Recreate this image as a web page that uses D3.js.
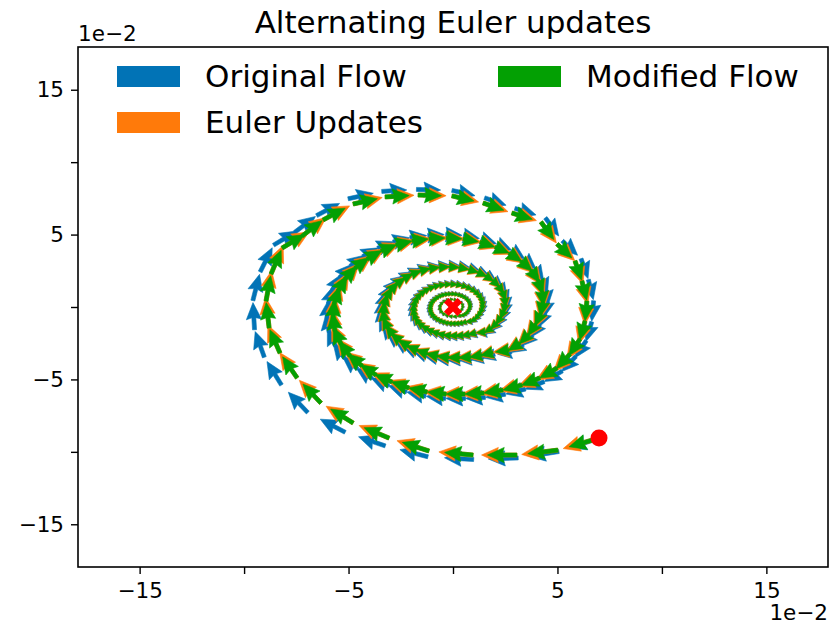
<!DOCTYPE html>
<meta charset="utf-8">
<script src="https://d3js.org/d3.v7.min.js"></script>
<style>
  body { margin: 0; background: #fff; }
  text { font-family: "DejaVu Sans", sans-serif; }
</style>
<div id="chart"></div>
<script>
// all values in units of 1e-2
// Euler iterates (tails of the Euler update and modified flow arrows), ring by ring
const eulerRing1 = [[6.99,-9.05],[5.02,-9.88],[3.06,-10.22],[0.96,-10.22],[-1.15,-9.94],[-3.06,-9.05],[-4.78,-8.01],[-6.32,-6.63],[-7.46,-4.90],[-8.28,-3.18],[-8.80,-1.45],[-8.95,0.41],[-8.71,2.28],[-8.18,4.07],[-7.22,4.90],[-6.22,6.01],[-4.78,7.11],[-3.25,7.60],[-1.67,7.73],[-0.05,7.67],[1.44,7.18],[2.82,6.49],[4.21,5.87],[4.98,4.35],[5.84,3.18],[6.17,1.80],[6.41,0.41],[6.32,-0.97],[6.08,-2.21],[5.60,-3.25],[4.98,-4.21],[4.16,-4.90]];
const eulerRing2 = [[3.30,-5.39],[2.39,-5.73],[1.48,-5.94],[0.57,-6.01],[-0.33,-6.01],[-1.24,-5.87],[-2.11,-5.59],[-2.92,-5.18],[-3.68,-4.70],[-4.35,-4.07],[-4.93,-3.38],[-5.36,-2.56],[-5.65,-1.66],[-5.74,-0.76],[-5.69,0.21],[-5.50,1.10],[-5.17,1.93],[-4.69,2.69],[-4.11,3.31],[-3.44,3.87],[-2.73,4.28],[-1.96,4.56],[-1.15,4.70],[-0.33,4.77],[0.48,4.70],[1.29,4.49],[2.01,4.14],[2.68,3.73],[3.25,3.18],[3.73,2.56],[4.07,1.86],[4.26,1.10],[4.31,0.35],[4.21,-0.41],[3.97,-1.17],[3.64,-1.86],[3.21,-2.49],[2.68,-2.97]];
const eulerRing3 = [[1.91,-3.13],[1.39,-3.32],[0.86,-3.45],[0.33,-3.49],[-0.19,-3.49],[-0.72,-3.40],[-1.22,-3.24],[-1.69,-3.00],[-2.13,-2.73],[-2.52,-2.36],[-2.86,-1.96],[-3.11,-1.48],[-3.28,-0.96],[-3.33,-0.44],[-3.30,0.12],[-3.19,0.64],[-3.00,1.12],[-2.72,1.56],[-2.38,1.92],[-2.00,2.24],[-1.58,2.48],[-1.14,2.64],[-0.67,2.73],[-0.19,2.77],[0.28,2.73],[0.75,2.60],[1.17,2.40],[1.55,2.16],[1.89,1.84],[2.16,1.48],[2.36,1.08],[2.47,0.64],[2.50,0.20],[2.44,-0.24],[2.30,-0.68],[2.11,-1.08],[1.86,-1.44],[1.55,-1.72]];
const eulerRing4 = [[1.09,-1.78],[0.79,-1.89],[0.49,-1.96],[0.19,-1.98],[-0.11,-1.98],[-0.41,-1.94],[-0.70,-1.84],[-0.96,-1.71],[-1.21,-1.55],[-1.44,-1.34],[-1.63,-1.12],[-1.77,-0.84],[-1.86,-0.55],[-1.89,-0.25],[-1.88,0.07],[-1.82,0.36],[-1.71,0.64],[-1.55,0.89],[-1.36,1.09],[-1.14,1.28],[-0.90,1.41],[-0.65,1.50],[-0.38,1.55],[-0.11,1.57],[0.16,1.55],[0.43,1.48],[0.66,1.37],[0.88,1.23],[1.07,1.05],[1.23,0.84],[1.34,0.61],[1.41,0.36],[1.42,0.12],[1.39,-0.14],[1.31,-0.39],[1.20,-0.61],[1.06,-0.82],[0.88,-0.98]];
const eulerRing5 = [[0.63,-1.02],[0.45,-1.09],[0.28,-1.13],[0.11,-1.14],[-0.06,-1.14],[-0.24,-1.12],[-0.40,-1.06],[-0.55,-0.98],[-0.70,-0.89],[-0.83,-0.77],[-0.94,-0.64],[-1.02,-0.49],[-1.07,-0.32],[-1.09,-0.14],[-1.08,0.04],[-1.05,0.21],[-0.98,0.37],[-0.89,0.51],[-0.78,0.63],[-0.65,0.74],[-0.52,0.81],[-0.37,0.87],[-0.22,0.89],[-0.06,0.91],[0.09,0.89],[0.25,0.85],[0.38,0.79],[0.51,0.71],[0.62,0.60],[0.71,0.49],[0.77,0.35],[0.81,0.21],[0.82,0.07],[0.80,-0.08],[0.75,-0.22],[0.69,-0.35],[0.61,-0.47],[0.51,-0.56]];
const eulerRing6 = [[0.36,-0.59],[0.16,-0.65],[-0.04,-0.66],[-0.23,-0.61],[-0.40,-0.52],[-0.54,-0.37],[-0.62,-0.18],[-0.63,0.02],[-0.57,0.21],[-0.45,0.36],[-0.30,0.47],[-0.13,0.52],[0.05,0.52],[0.22,0.46],[0.36,0.35],[0.45,0.20],[0.47,0.04],[0.44,-0.13],[0.35,-0.27]];

// original flow samples, sitting a little outside the Euler path
const origRing1 = [[6.99,-9.05],[5.07,-9.98],[3.12,-10.42],[0.99,-10.53],[-1.20,-10.34],[-3.24,-9.59],[-5.16,-8.65],[-6.95,-7.29],[-8.21,-5.39],[-9.03,-3.47],[-9.50,-1.57],[-9.58,0.44],[-9.23,2.42],[-8.59,4.27],[-7.58,5.15],[-6.53,6.31],[-5.02,7.47],[-3.41,7.98],[-1.75,8.12],[-0.05,8.05],[1.51,7.54],[2.96,6.81],[4.42,6.16],[5.23,4.57],[6.13,3.34],[6.48,1.89],[6.73,0.43],[6.64,-1.02],[6.38,-2.32],[5.88,-3.41],[5.23,-4.42],[4.37,-5.15]];
const origRing2 = [[3.47,-5.66],[2.51,-6.02],[1.55,-6.24],[0.60,-6.31],[-0.35,-6.31],[-1.30,-6.16],[-2.22,-5.87],[-3.07,-5.44],[-3.86,-4.94],[-4.57,-4.27],[-5.18,-3.55],[-5.63,-2.69],[-5.93,-1.74],[-6.03,-0.80],[-5.97,0.22],[-5.78,1.16],[-5.43,2.03],[-4.92,2.82],[-4.32,3.48],[-3.61,4.06],[-2.87,4.49],[-2.06,4.79],[-1.21,4.94],[-0.35,5.01],[0.50,4.94],[1.35,4.71],[2.11,4.35],[2.81,3.92],[3.41,3.34],[3.92,2.69],[4.27,1.95],[4.47,1.16],[4.53,0.37],[4.42,-0.43],[4.17,-1.23],[3.82,-1.95],[3.37,-2.61],[2.81,-3.12]];
const origRing3 = [[2.01,-3.29],[1.46,-3.50],[0.90,-3.62],[0.35,-3.67],[-0.20,-3.67],[-0.76,-3.58],[-1.29,-3.41],[-1.78,-3.16],[-2.24,-2.87],[-2.65,-2.48],[-3.01,-2.06],[-3.27,-1.56],[-3.45,-1.01],[-3.50,-0.46],[-3.47,0.13],[-3.36,0.67],[-3.15,1.18],[-2.86,1.64],[-2.51,2.02],[-2.10,2.36],[-1.67,2.61],[-1.20,2.78],[-0.70,2.87],[-0.20,2.91],[0.29,2.87],[0.79,2.74],[1.23,2.53],[1.63,2.28],[1.98,1.94],[2.28,1.56],[2.48,1.13],[2.60,0.67],[2.63,0.21],[2.57,-0.25],[2.42,-0.71],[2.22,-1.13],[1.96,-1.52],[1.63,-1.81]];
const origRing4 = [[1.15,-1.87],[0.83,-1.99],[0.51,-2.06],[0.20,-2.09],[-0.11,-2.09],[-0.43,-2.04],[-0.73,-1.94],[-1.01,-1.80],[-1.28,-1.63],[-1.51,-1.41],[-1.71,-1.17],[-1.86,-0.89],[-1.96,-0.58],[-1.99,-0.26],[-1.97,0.07],[-1.91,0.38],[-1.79,0.67],[-1.63,0.93],[-1.43,1.15],[-1.19,1.34],[-0.95,1.49],[-0.68,1.58],[-0.40,1.63],[-0.11,1.66],[0.17,1.63],[0.45,1.56],[0.70,1.44],[0.93,1.29],[1.13,1.10],[1.29,0.89],[1.41,0.65],[1.48,0.38],[1.50,0.12],[1.46,-0.14],[1.38,-0.41],[1.26,-0.65],[1.11,-0.86],[0.93,-1.03]];
const origRing5 = [[0.66,-1.08],[0.48,-1.15],[0.30,-1.19],[0.11,-1.20],[-0.07,-1.20],[-0.25,-1.17],[-0.42,-1.12],[-0.58,-1.04],[-0.74,-0.94],[-0.87,-0.81],[-0.99,-0.68],[-1.07,-0.51],[-1.13,-0.33],[-1.15,-0.15],[-1.14,0.04],[-1.10,0.22],[-1.03,0.39],[-0.94,0.54],[-0.82,0.66],[-0.69,0.77],[-0.55,0.86],[-0.39,0.91],[-0.23,0.94],[-0.07,0.95],[0.10,0.94],[0.26,0.90],[0.40,0.83],[0.54,0.75],[0.65,0.64],[0.75,0.51],[0.81,0.37],[0.85,0.22],[0.86,0.07],[0.84,-0.08],[0.79,-0.23],[0.73,-0.37],[0.64,-0.50],[0.54,-0.59]];
const origRing6 = [[0.38,-0.62],[0.17,-0.69],[-0.04,-0.69],[-0.24,-0.65],[-0.43,-0.54],[-0.57,-0.39],[-0.65,-0.19],[-0.66,0.02],[-0.60,0.22],[-0.47,0.38],[-0.32,0.49],[-0.13,0.54],[0.06,0.54],[0.23,0.48],[0.38,0.37],[0.47,0.21],[0.50,0.04],[0.46,-0.14],[0.37,-0.29]];

const startPoint = [6.99, -9.05];
const fixedPoint = [0, 0];

const tickValues = [-15, -10, -5, 0, 5, 10, 15];
const tickLabels = {"-15": "\u221215", "-5": "\u22125", "5": "5", "15": "15"};
const axisExtent = [-17.95, 17.95];

const seriesNames = ["Original Flow", "Euler Updates", "Modified Flow"];
const seriesColors = ["#0173b6", "#ff7a0a", "#03a003"];

const eulerPath = [].concat(eulerRing1, eulerRing2, eulerRing3, eulerRing4, eulerRing5, eulerRing6);
const origPath = [].concat(origRing1, origRing2, origRing3, origRing4, origRing5, origRing6);

// set the dimensions and margins of the graph
const margin = {top: 47, right: 5, bottom: 60, left: 78},
    width = 833 - margin.left - margin.right,
    height = 627 - margin.top - margin.bottom;

const svg = d3.select("#chart")
  .append("svg")
    .attr("width", width + margin.left + margin.right)
    .attr("height", height + margin.top + margin.bottom)
  .append("g")
    .attr("transform", `translate(${margin.left},${margin.top})`);

const x = d3.scaleLinear().domain(axisExtent).range([0, width]);
const y = d3.scaleLinear().domain(axisExtent).range([height, 0]);

// axes
const fmt = d => tickLabels[String(d)] || "";
const xAxis = svg.append("g")
  .attr("transform", `translate(0,${height})`)
  .call(d3.axisBottom(x).tickValues(tickValues).tickSize(7).tickPadding(9).tickFormat(fmt));
const yAxis = svg.append("g")
  .call(d3.axisLeft(y).tickValues(tickValues).tickSize(7).tickPadding(7).tickFormat(fmt));
[xAxis, yAxis].forEach(a => {
  a.select(".domain").remove();
  a.selectAll("line").attr("stroke", "#000").attr("stroke-width", 1.4);
  a.selectAll("text").attr("font-size", 21.5).attr("fill", "#000")
    .style("font-family", "'DejaVu Sans', sans-serif");
});

// quiver arrows, shaped like matplotlib's (in shaft-width units)
const shaftW = 4.0;
const headW = 3.8, headL = 4.2, headAxis = 3.8;
// arrow length in px grows with distance from the fixed point
const arrowLen = r => 4.65 * Math.pow(r, 0.78);
function arrowPath(x0, y0, dx, dy, len) {
  const L = len / shaftW;
  let xs = [0, L - headAxis, L - headL, L, L - headL, L - headAxis, 0];
  let ys = [0.5, 0.5, headW / 2, 0, -headW / 2, -0.5, -0.5];
  if (L < headL) {
    const s = L / headL;
    xs = [0, headL - headAxis, 0, headL, 0, headL - headAxis, 0].map(v => v * s);
    ys = ys.map(v => v * s);
  }
  const n = Math.hypot(dx, dy) || 1, c = dx / n, s = dy / n;
  return "M" + xs.map((xv, i) => {
    const X = x0 + (xv * c - ys[i] * s) * shaftW;
    const Y = y0 + (xv * s + ys[i] * c) * shaftW;
    return X.toFixed(2) + "," + Y.toFixed(2);
  }).join("L") + "Z";
}

function drawQuiver(pts, color, lenFactor) {
  const g = svg.append("g").attr("fill", color)
    .attr("stroke", color).attr("stroke-width", 0.6).attr("stroke-linejoin", "round");
  pts.forEach((p, i) => {
    const a = i < pts.length - 1 ? p : pts[i - 1];
    const b = i < pts.length - 1 ? pts[i + 1] : p;
    const dx = x(b[0]) - x(a[0]), dy = y(b[1]) - y(a[1]);
    const len = arrowLen(Math.hypot(p[0], p[1])) * lenFactor;
    g.append("path").attr("d", arrowPath(x(p[0]), y(p[1]), dx, dy, len));
  });
}

drawQuiver(origPath, seriesColors[0], 1.0);
drawQuiver(eulerPath, seriesColors[1], 1.2);
drawQuiver(eulerPath, seriesColors[2], 1.0);

// start point and fixed point
svg.append("circle")
  .attr("cx", x(startPoint[0])).attr("cy", y(startPoint[1]))
  .attr("r", 8.5).attr("fill", "#ff0000");
const xm = 18;
const xMarker = [[-0.25,-0.5],[0,-0.25],[0.25,-0.5],[0.5,-0.25],[0.25,0],[0.5,0.25],[0.25,0.5],[0,0.25],[-0.25,0.5],[-0.5,0.25],[-0.25,0],[-0.5,-0.25]];
svg.append("path")
  .attr("d", "M" + xMarker.map(v => (x(fixedPoint[0]) + v[0] * xm) + "," + (y(fixedPoint[1]) + v[1] * xm)).join("L") + "Z")
  .attr("fill", "#ff0000");

// frame
svg.append("rect")
  .attr("width", width).attr("height", height)
  .attr("fill", "none").attr("stroke", "#000").attr("stroke-width", 1.6);

// offset labels
svg.append("text").attr("x", 0).attr("y", -6).attr("font-size", 21.5).text("1e\u22122");
svg.append("text").attr("x", width).attr("y", height + 53).attr("text-anchor", "end")
  .attr("font-size", 21.5).text("1e\u22122");

// title
svg.append("text")
  .attr("x", width / 2).attr("y", -14)
  .attr("text-anchor", "middle").attr("font-size", 31)
  .text("Alternating Euler updates");

// legend (two columns)
const legendPos = [[39, 19], [39, 65], [420, 19]];
const legend = svg.append("g");
seriesNames.forEach((name, i) => {
  const [lx, ly] = legendPos[i];
  legend.append("rect")
    .attr("x", lx).attr("y", ly).attr("width", 63).attr("height", 21)
    .attr("fill", seriesColors[i]);
  legend.append("text")
    .attr("x", lx + 88).attr("y", ly + 21)
    .attr("font-size", 31).text(name);
});
</script>
